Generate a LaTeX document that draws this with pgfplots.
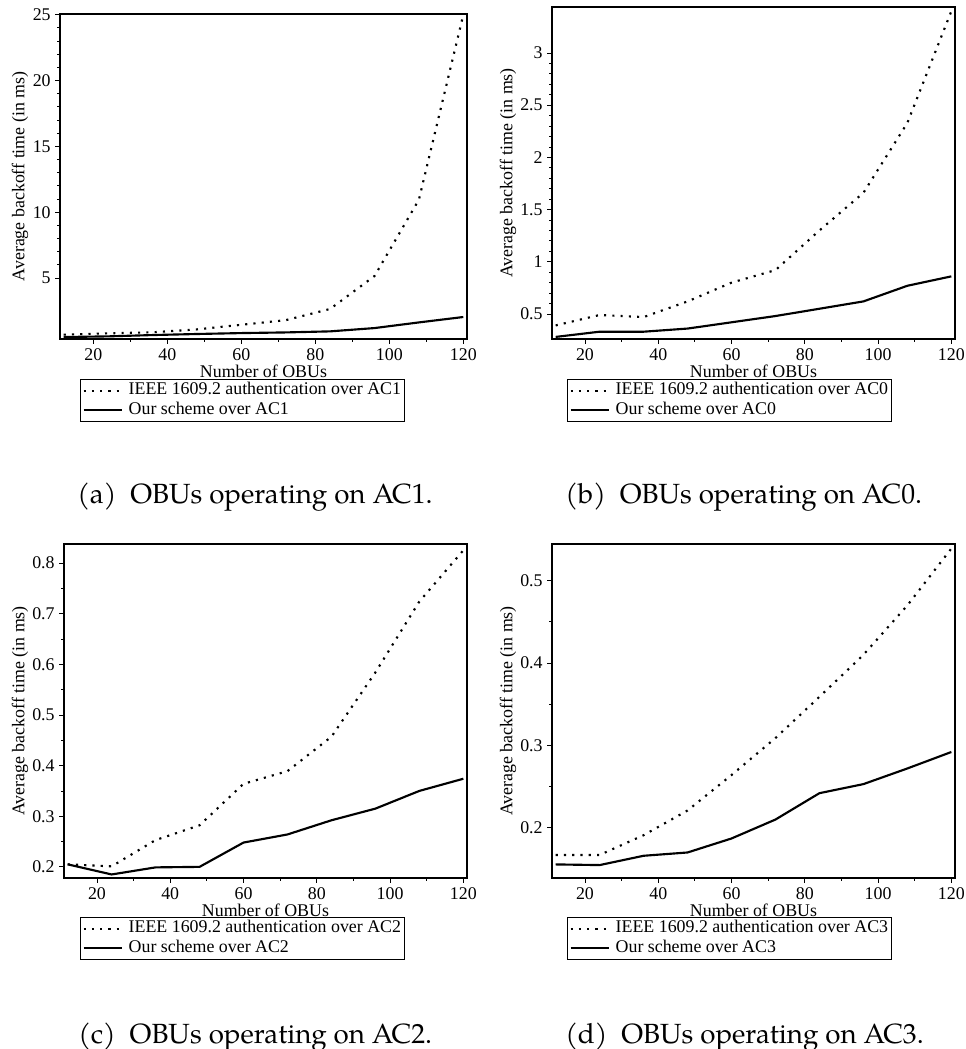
\documentclass[border=0pt]{standalone}
\usepackage{fontspec}
\setmainfont{Liberation Serif}
\newfontfamily\capfont{TeX Gyre Pagella}
\usepackage{pgfplots}
\pgfplotsset{compat=1.18}
\pgfplotsset{
  obu/.style={
    scale only axis,
    axis line style={line width=0.8pt},
    xmin=11, xmax=121,
    xtick={20,40,...,120}, minor x tick num=1,
    tick align=outside, xtick pos=bottom, ytick pos=left,
    major tick length=3.5pt, minor tick length=2pt,
    every tick/.style={black, line width=0.6pt},
    tick label style={font=\fontsize{13.4}{15}\selectfont},
    /pgf/number format/assume math mode=true,
    label style={font=\fontsize{13.4}{15}\selectfont},
    xlabel={Number of OBUs},
    ylabel={Average backoff time (in ms)},
    xlabel style={at={(axis description cs:0.5,0)}, anchor=center, yshift=-24pt},
    legend style={at={(rel axis cs:0,0)}, anchor=north west, yshift=-30pt,
      draw=black, line width=0.8pt, inner sep=1.5pt,
      font=\fontsize{13.4}{15}\selectfont,
      nodes={inner sep=1pt, text height=9pt, text depth=2.8pt},
      row sep=0.6pt, column sep=3pt},
    legend cell align=left,
    legend image code/.code={\draw[#1] (0pt,0pt) -- (29pt,0pt);},
  },
  dotl/.style={black, line width=1.6pt, dash pattern=on 1.6pt off 4.6pt},
  soll/.style={black, line width=1.6pt},
}
\begin{document}
\begin{tikzpicture}
\useasboundingbox (0,0) rectangle (724.5pt,-786.75pt);

% (a)
\begin{axis}[obu, at={(45pt,-254.25pt)}, anchor=south west,
  width=305.25pt, height=243.75pt,
  ymin=0.37, ymax=25.05, ytick={5,10,15,20,25}, minor y tick num=4,
  ylabel style={at={(axis description cs:-0.098,0.5)}, anchor=center},
  legend style={xshift=15pt}]
\addplot[dotl] coordinates {(12,0.70) (24,0.80) (36,0.88) (48,1.10) (60,1.45) (72,1.80) (84,2.65) (96,5.15) (108,10.95) (120,25.0)};
\addplot[soll] coordinates {(12,0.52) (24,0.57) (36,0.67) (48,0.75) (60,0.82) (72,0.87) (84,0.95) (96,1.20) (108,1.63) (120,2.04)};
\legend{IEEE 1609.2 authentication over AC1, Our scheme over AC1}
\end{axis}

% (b)
\begin{axis}[obu, at={(414pt,-254.25pt)}, anchor=south west,
  width=302.25pt, height=249pt,
  ymin=0.26, ymax=3.44, ytick={0.5,1,1.5,2,2.5,3}, minor y tick num=4,
  ylabel style={at={(axis description cs:-0.109,0.5)}, anchor=center},
  legend style={xshift=11.25pt}]
\addplot[dotl] coordinates {(12,0.39) (24,0.49) (36,0.47) (48,0.62) (60,0.80) (72,0.92) (84,1.30) (96,1.66) (108,2.33) (120,3.40)};
\addplot[soll] coordinates {(12,0.28) (24,0.33) (36,0.33) (48,0.36) (60,0.42) (72,0.48) (84,0.55) (96,0.62) (108,0.77) (120,0.86)};
\legend{IEEE 1609.2 authentication over AC0, Our scheme over AC0}
\end{axis}

% (c)
\begin{axis}[obu, at={(48pt,-658.5pt)}, anchor=south west,
  width=302.25pt, height=250.5pt,
  ymin=0.178, ymax=0.8375, ytick={0.2,0.3,0.4,0.5,0.6,0.7,0.8}, minor y tick num=1,
  ylabel style={at={(axis description cs:-0.109,0.5)}, anchor=center},
  legend style={xshift=12pt, yshift=0.75pt}]
\addplot[dotl] coordinates {(12,0.205) (24,0.201) (36,0.253) (48,0.282) (60,0.364) (72,0.389) (84,0.457) (96,0.584) (108,0.724) (120,0.825)};
\addplot[soll] coordinates {(12,0.205) (24,0.185) (36,0.199) (48,0.200) (60,0.248) (72,0.264) (84,0.292) (96,0.315) (108,0.350) (120,0.374)};
\legend{IEEE 1609.2 authentication over AC2, Our scheme over AC2}
\end{axis}

% (d)
\begin{axis}[obu, at={(414pt,-658.5pt)}, anchor=south west,
  width=302.25pt, height=250.5pt,
  ymin=0.139, ymax=0.5445, ytick={0.2,0.3,0.4,0.5}, minor y tick num=1,
  ylabel style={at={(axis description cs:-0.109,0.5)}, anchor=center},
  legend style={xshift=11.25pt, yshift=0.75pt}]
\addplot[dotl] coordinates {(12,0.167) (24,0.167) (36,0.191) (48,0.221) (60,0.264) (72,0.309) (84,0.359) (96,0.410) (108,0.470) (120,0.539)};
\addplot[soll] coordinates {(12,0.1555) (24,0.1547) (36,0.166) (48,0.170) (60,0.187) (72,0.210) (84,0.242) (96,0.253) (108,0.272) (120,0.292)};
\legend{IEEE 1609.2 authentication over AC3, Our scheme over AC3}
\end{axis}

\begin{scope}[every node/.style={anchor=base west, inner sep=0pt, font=\capfont\fontsize{20.8}{24}\selectfont}]
\node at (57.75pt,-377.25pt) {(a)\enspace OBUs operating on AC1.};
\node at (423.75pt,-377.25pt) {(b)\enspace OBUs operating on AC0.};
\node at (58.5pt,-782.25pt) {(c)\enspace OBUs operating on AC2.};
\node at (423.75pt,-782.25pt) {(d)\enspace OBUs operating on AC3.};
\end{scope}
\end{tikzpicture}
\end{document}
